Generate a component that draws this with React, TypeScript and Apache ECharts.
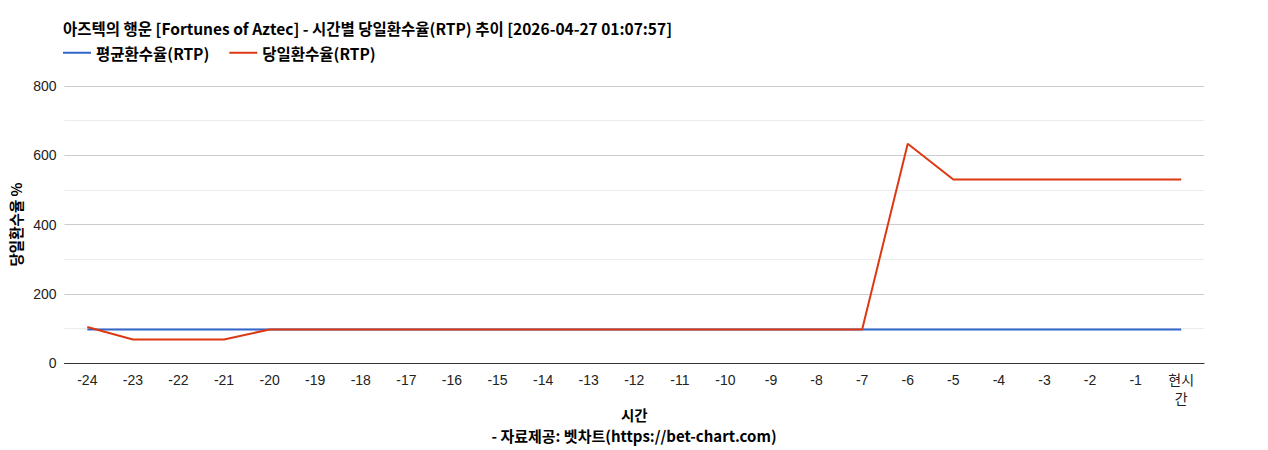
import React, { useEffect, useRef } from "react";
import * as echarts from "echarts";

const hours = [
  "-24", "-23", "-22", "-21", "-20", "-19", "-18", "-17", "-16", "-15",
  "-14", "-13", "-12", "-11", "-10", "-9", "-8", "-7", "-6", "-5",
  "-4", "-3", "-2", "-1", "현시간",
];
const avgRtp = [
  97, 97, 97, 97, 97, 97, 97, 97, 97, 97,
  97, 97, 97, 97, 97, 97, 97, 97, 97, 97,
  97, 97, 97, 97, 97,
];
const dailyRtp = [
  104, 68, 68, 68, 97, 97, 97, 97, 97, 97,
  97, 97, 97, 97, 97, 97, 97, 97, 633, 530,
  530, 530, 530, 530, 530,
];

const cjk = "'Noto Sans CJK KR', 'Noto Sans', sans-serif";
const latin = "Arial, 'Liberation Sans', 'Noto Sans CJK KR', sans-serif";

const App: React.FC = () => {
  const chartRef = useRef<HTMLDivElement | null>(null);

  useEffect(() => {
    document.body.style.margin = "0";
    if (!chartRef.current) return;
    const chart = echarts.init(chartRef.current, undefined, { renderer: "svg" });

    chart.setOption({
      animation: false,
      backgroundColor: "#fff",
      title: [
        {
          text: "아즈텍의 행운 [Fortunes of Aztec] - 시간별 당일환수율(RTP) 추이 [2026-04-27 01:07:57]",
          left: 63,
          top: 20,
          padding: 0,
          textStyle: { fontFamily: cjk, fontSize: 15.5, fontWeight: "bold", color: "#000" },
        },
        {
          text: "- 자료제공: 벳차트(https://bet-chart.com)",
          left: "center",
          top: 428,
          padding: 0,
          textStyle: { fontFamily: cjk, fontSize: 15, fontWeight: "bold", color: "#000" },
        },
      ],
      legend: {
        left: 63,
        top: 45,
        padding: 0,
        icon: "rect",
        itemWidth: 28,
        itemHeight: 2,
        itemGap: 20,
        textStyle: { fontFamily: cjk, fontSize: 15.5, fontWeight: "bold", color: "#000" },
        data: ["평균환수율(RTP)", "당일환수율(RTP)"],
      },
      grid: { left: 63, right: 64, top: 86, bottom: 87, containLabel: false },
      xAxis: {
        type: "category",
        data: hours,
        boundaryGap: true,
        name: "시간",
        nameLocation: "middle",
        nameGap: 44,
        nameMoveOverlap: false,
        nameTextStyle: { fontFamily: cjk, fontSize: 14.5, fontWeight: "bold", color: "#000" },
        axisLine: { lineStyle: { color: "#333", width: 1 } },
        axisTick: { show: false },
        axisLabel: {
          interval: 0,
          margin: 7,
          fontFamily: latin,
          fontSize: 14,
          color: "#222",
          lineHeight: 19,
          formatter: (v: string) => (v === "현시간" ? "현시\n간" : v),
        },
      },
      yAxis: {
        type: "value",
        min: 0,
        max: 800,
        interval: 200,
        name: "당일환수율 %",
        nameLocation: "middle",
        nameGap: 42,
        nameMoveOverlap: false,
        nameTextStyle: { fontFamily: cjk, fontSize: 14.5, fontWeight: "bold", color: "#000" },
        axisLine: { show: false },
        axisTick: { show: false },
        axisLabel: { margin: 8, fontFamily: latin, fontSize: 14, color: "#222" },
        splitLine: { lineStyle: { color: "#cccccc", width: 1 } },
        minorTick: { show: false, splitNumber: 2 },
        minorSplitLine: { show: true, lineStyle: { color: "#ebebeb", width: 1 } },
      },
      series: [
        {
          name: "평균환수율(RTP)",
          type: "line",
          data: avgRtp,
          showSymbol: false,
          symbol: "none",
          lineStyle: { color: "#3366cc", width: 2 },
          itemStyle: { color: "#3366cc" },
          z: 2,
        },
        {
          name: "당일환수율(RTP)",
          type: "line",
          data: dailyRtp,
          showSymbol: false,
          symbol: "none",
          lineStyle: { color: "#dc3912", width: 2 },
          itemStyle: { color: "#dc3912" },
          z: 3,
        },
      ],
    });

    return () => {
      chart.dispose();
    };
  }, []);

  return <div ref={chartRef} style={{ width: 1268, height: 450 }} />;
};

export default App;
